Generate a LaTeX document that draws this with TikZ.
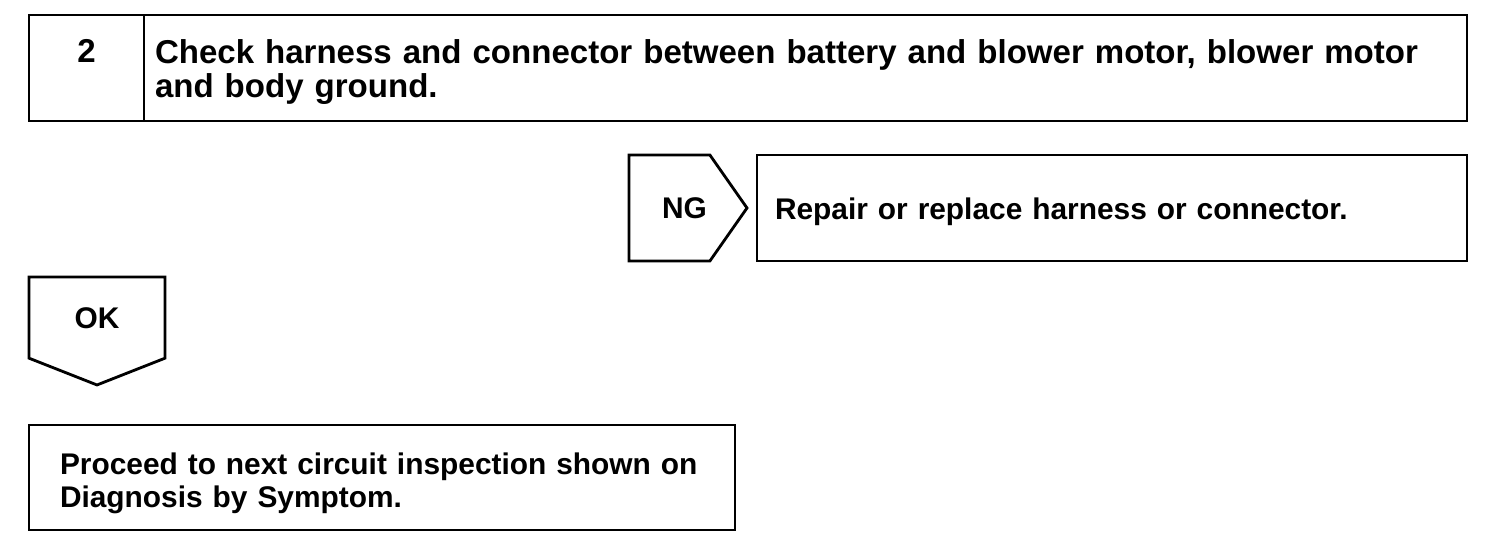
\documentclass[tikz,border=0pt]{standalone}
\usepackage{fontspec}
\setmainfont{Liberation Sans}
\usetikzlibrary{shapes.symbols}
\usetikzlibrary{positioning}
\tikzstyle{stepbox} = [rectangle, draw=black, line width=1.6pt, minimum height=2.12cm, outer sep=0pt, inner ysep=0pt, font=\bfseries\fontsize{17}{18.8}\selectfont]
\tikzstyle{textbox} = [stepbox, align=left]
\tikzstyle{result} = [signal, draw=black, line width=1.6pt, outer sep=0pt, inner sep=0pt, font=\bfseries\fontsize{17}{18.8}\selectfont]

\begin{document}
\begin{tikzpicture}
 \useasboundingbox (0,0) rectangle (30.08,-11);
 \node (num) [stepbox, minimum width=2.3cm, align=center, font=\bfseries\fontsize{18.8}{19.4}\selectfont] at (1.73,-1.36) {2\\\mbox{}};
 \node (check) [textbox, right=0pt of num, text width=26.02cm, inner xsep=0.22cm, font=\bfseries\fontsize{18.8}{19.4}\selectfont, text depth=19pt] {Check harness and connector between battery and blower motor, blower motor\\and body ground.};

 \node (ng) [result, signal to=east, signal pointer angle=110, minimum width=2.36cm, minimum height=2.12cm, anchor=west] at (12.58,-4.16) {\hspace*{0.6cm}NG};
 \node (repair) [textbox, right=0.2cm of ng, text width=13.48cm, inner xsep=0.36cm, text height=16.5pt, text depth=3.5pt] {Repair or replace harness or connector.};

 \node (ok) [result, signal to=south, signal pointer angle=137, minimum width=2.72cm, minimum height=1.8cm, anchor=north west, text height=14pt, text depth=2pt] at (0.58,-5.54) {OK};
 \node (proceed) [textbox, minimum height=2.1cm, text width=12.88cm, inner xsep=0.62cm, anchor=north west, text depth=15.6pt] at (0.58,-8.5) {Proceed to next circuit inspection shown on\\Diagnosis by Symptom.};
\end{tikzpicture}
\end{document}
